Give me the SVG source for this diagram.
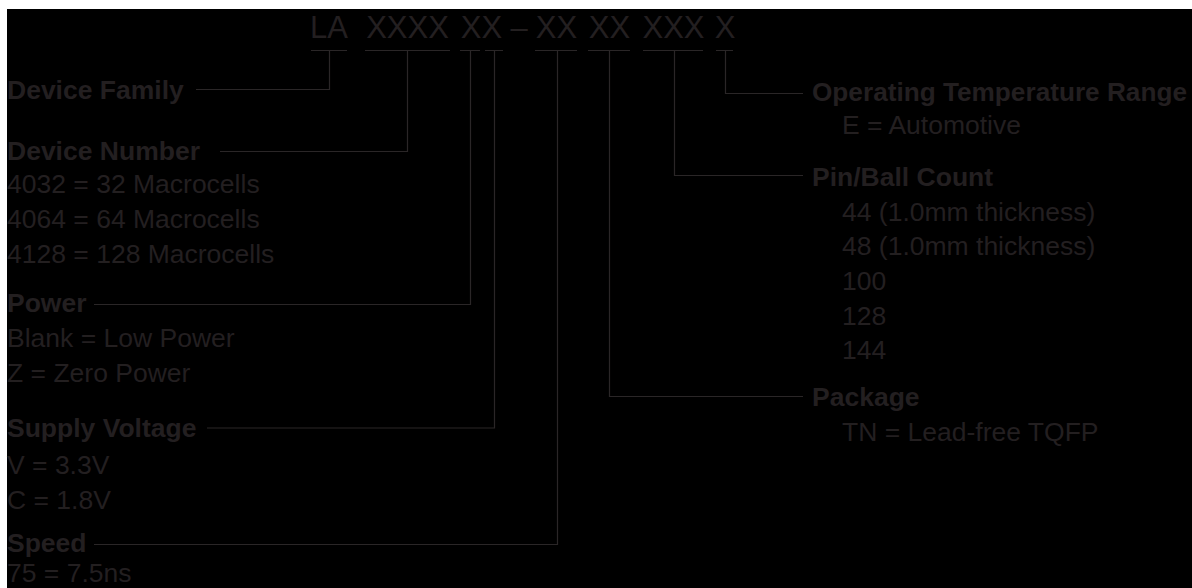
<svg xmlns="http://www.w3.org/2000/svg" width="1192" height="588" viewBox="0 0 1192 588">
<style>
text{font-family:"Liberation Sans",Arial,Helvetica,sans-serif;fill:#231f20}
.hd{font-size:31px;text-anchor:middle}
.b{font-size:26.5px;font-weight:bold}
.r{font-size:26.5px}
.ln{stroke:#2a2627;stroke-width:1.2;fill:none}
</style>
<rect x="0" y="0" width="1192" height="588" fill="#ffffff"/>
<rect x="7" y="9" width="1185" height="579" fill="#000000"/>
<g id="code">
<text class="hd" x="329" y="38">LA</text>
<text class="hd" x="407.5" y="38">XXXX</text>
<text class="hd" x="481.5" y="38">XX</text>
<text class="hd" x="519" y="38">–</text>
<text class="hd" x="556.5" y="38">XX</text>
<text class="hd" x="609.5" y="38">XX</text>
<text class="hd" x="673.5" y="38">XXX</text>
<text class="hd" x="725" y="38">X</text>
</g>
<g id="connectors" class="ln">
<path d="M311 50.5H347M329.5 50.5V89.5H196"/>
<path d="M365 50.5H450M407.5 50.5V151.5H220"/>
<path d="M460 50.5H480M470.5 50.5V304.5H94"/>
<path d="M485 50.5H503M494.5 50.5V428H207"/>
<path d="M535 50.5H577M557.5 50.5V544.5H94"/>
<path d="M588 50.5H630M609.5 50.5V396.5H803"/>
<path d="M643 50.5H703M674.5 50.5V175.5H803"/>
<path d="M716 50.5H733M725.5 50.5V93.5H803"/>
</g>
<g id="device-family">
<text class="b" x="7" y="99">Device Family</text>
</g>
<g id="device-number">
<text class="b" x="7" y="160">Device Number</text>
<text class="r" x="7" y="192.5">4032 = 32 Macrocells</text>
<text class="r" x="7" y="227.5">4064 = 64 Macrocells</text>
<text class="r" x="7" y="262.5">4128 = 128 Macrocells</text>
</g>
<g id="power">
<text class="b" x="7" y="312">Power</text>
<text class="r" x="7" y="346.5">Blank = Low Power</text>
<text class="r" x="7" y="381.5">Z = Zero Power</text>
</g>
<g id="supply-voltage">
<text class="b" x="7" y="436.5">Supply Voltage</text>
<text class="r" x="7" y="474">V = 3.3V</text>
<text class="r" x="7" y="508.5">C = 1.8V</text>
</g>
<g id="speed">
<text class="b" x="7" y="551.5">Speed</text>
<text class="r" x="7" y="582">75 = 7.5ns</text>
</g>
<g id="operating-temperature">
<text class="b" x="812" y="101" textLength="375" lengthAdjust="spacingAndGlyphs">Operating Temperature Range</text>
<text class="r" x="842" y="134">E = Automotive</text>
</g>
<g id="pin-ball-count">
<text class="b" x="812" y="186">Pin/Ball Count</text>
<text class="r" x="842" y="220.5">44 (1.0mm thickness)</text>
<text class="r" x="842" y="255">48 (1.0mm thickness)</text>
<text class="r" x="842" y="290">100</text>
<text class="r" x="842" y="325">128</text>
<text class="r" x="842" y="359">144</text>
</g>
<g id="package">
<text class="b" x="812" y="406">Package</text>
<text class="r" x="842" y="440.5">TN = Lead-free TQFP</text>
</g>
</svg>
